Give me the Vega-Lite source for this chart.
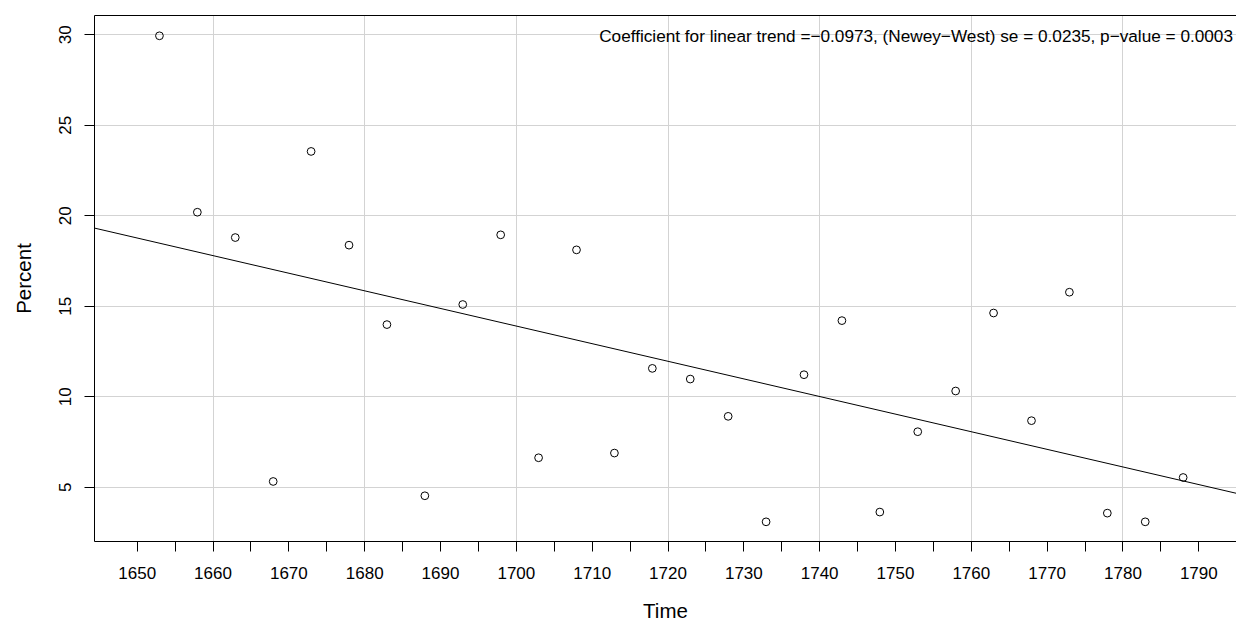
{
  "$schema": "https://vega.github.io/schema/vega-lite/v6.json",
  "autosize": {"type": "none"},
  "width": 1142,
  "height": 526,
  "padding": {"left": 94, "top": 15, "right": 0, "bottom": 79},
  "background": "white",
  "config": {
    "view": {"stroke": null},
    "font": "Liberation Sans",
    "axis": {
      "labelFont": "Liberation Sans",
      "titleFont": "Liberation Sans",
      "labelColor": "black",
      "titleColor": "black",
      "labelFontSize": 17,
      "titleFontSize": 20.5,
      "titleFontWeight": "normal",
      "domainColor": "black",
      "domainWidth": 1,
      "tickColor": "black",
      "tickWidth": 1,
      "tickSize": 10,
      "gridColor": "#d3d3d3",
      "gridWidth": 1,
      "gridOpacity": 1
    }
  },
  "datasets": {
    "pts": [
      {"year": 1653, "pct": 29.92},
      {"year": 1658, "pct": 20.17},
      {"year": 1663, "pct": 18.77},
      {"year": 1668, "pct": 5.29},
      {"year": 1673, "pct": 23.53},
      {"year": 1678, "pct": 18.35},
      {"year": 1683, "pct": 13.96},
      {"year": 1688, "pct": 4.5},
      {"year": 1693, "pct": 15.07},
      {"year": 1698, "pct": 18.92},
      {"year": 1703, "pct": 6.6},
      {"year": 1708, "pct": 18.09},
      {"year": 1713, "pct": 6.86},
      {"year": 1718, "pct": 11.54},
      {"year": 1723, "pct": 10.95},
      {"year": 1728, "pct": 8.89},
      {"year": 1733, "pct": 3.06},
      {"year": 1738, "pct": 11.19},
      {"year": 1743, "pct": 14.18},
      {"year": 1748, "pct": 3.6},
      {"year": 1753, "pct": 8.04},
      {"year": 1758, "pct": 10.29},
      {"year": 1763, "pct": 14.6},
      {"year": 1768, "pct": 8.65},
      {"year": 1773, "pct": 15.75},
      {"year": 1778, "pct": 3.54},
      {"year": 1783, "pct": 3.06},
      {"year": 1788, "pct": 5.51}
    ],
    "trend": [
      {"year": 1644.37, "pct": 19.3},
      {"year": 1794.97, "pct": 4.64}
    ],
    "note": [
      {"year": 1794.57, "pct": 29.83, "label": "Coefficient for linear trend =−0.0973, (Newey−West) se = 0.0235, p−value = 0.0003"}
    ]
  },
  "layer": [
    {
      "data": {"name": "pts"},
      "mark": {"type": "point", "shape": "circle", "filled": false, "stroke": "black", "strokeWidth": 1, "size": 60, "opacity": 1},
      "encoding": {
        "x": {
          "field": "year", "type": "quantitative",
          "scale": {"domain": [1644.37, 1794.97], "nice": false, "zero": false},
          "axis": {
            "orient": "bottom",
            "values": [1650, 1655, 1660, 1665, 1670, 1675, 1680, 1685, 1690, 1695, 1700, 1705, 1710, 1715, 1720, 1725, 1730, 1735, 1740, 1745, 1750, 1755, 1760, 1765, 1770, 1775, 1780, 1785, 1790],
            "labelExpr": "datum.value % 10 == 0 ? format(datum.value, 'd') : ''",
            "labelOverlap": false,
            "labelFlush": false,
            "labelPadding": 14,
            "grid": false,
            "title": "Time",
            "titlePadding": 20
          }
        },
        "y": {
          "field": "pct", "type": "quantitative",
          "scale": {"domain": [2.0, 31.07], "nice": false, "zero": false},
          "axis": {
            "values": [5, 10, 15, 20, 25, 30],
            "grid": true,
            "labelAngle": -90,
            "labelAlign": "center",
            "labelBaseline": "bottom",
            "labelPadding": 10,
            "title": "Percent",
            "titlePadding": 22
          }
        }
      }
    },
    {
      "data": {"name": "trend"},
      "mark": {"type": "line", "color": "black", "strokeWidth": 1, "clip": true},
      "encoding": {
        "x": {
          "field": "year", "type": "quantitative",
          "axis": {
            "orient": "top",
            "values": [1660, 1680, 1700, 1720, 1740, 1760, 1780],
            "grid": true,
            "ticks": false,
            "labels": false,
            "domain": true,
            "title": null
          }
        },
        "y": {"field": "pct", "type": "quantitative"}
      }
    },
    {
      "data": {"name": "note"},
      "mark": {"type": "text", "align": "right", "baseline": "middle", "fontSize": 17.2, "font": "Liberation Sans", "color": "black"},
      "encoding": {
        "x": {"field": "year", "type": "quantitative", "axis": null},
        "y": {"field": "pct", "type": "quantitative"},
        "text": {"field": "label"}
      }
    }
  ],
  "resolve": {"axis": {"x": "independent"}}
}
